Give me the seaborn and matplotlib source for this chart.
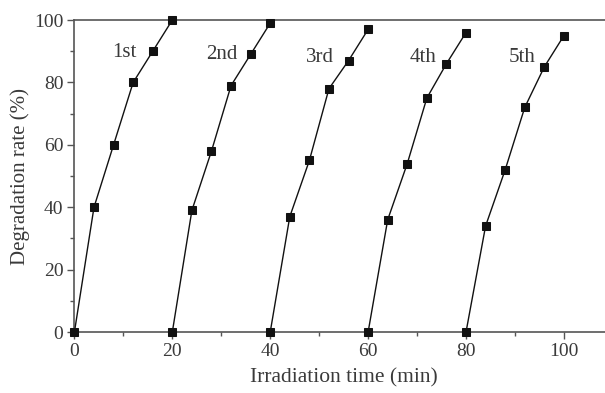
import matplotlib
matplotlib.use("Agg")
import matplotlib.pyplot as plt
import seaborn as sns
import pandas as pd
from matplotlib.ticker import MultipleLocator

# Photocatalytic degradation over five consecutive reuse cycles
cycles = ["1st", "2nd", "3rd", "4th", "5th"]
time_1st = [0, 4, 8, 12, 16, 20]
time_2nd = [20, 24, 28, 32, 36, 40]
time_3rd = [40, 44, 48, 52, 56, 60]
time_4th = [60, 64, 68, 72, 76, 80]
time_5th = [80, 84, 88, 92, 96, 100]
rate_1st = [0, 40, 60, 80, 90, 100]
rate_2nd = [0, 39, 58, 79, 89, 99]
rate_3rd = [0, 37, 55, 78, 87, 97]
rate_4th = [0, 36, 54, 75, 86, 96]
rate_5th = [0, 34, 52, 72, 85, 95]

times = [time_1st, time_2nd, time_3rd, time_4th, time_5th]
rates = [rate_1st, rate_2nd, rate_3rd, rate_4th, rate_5th]

df = pd.concat(
    [pd.DataFrame({"time": t, "rate": r, "cycle": c}) for t, r, c in zip(times, rates, cycles)],
    ignore_index=True,
)

sns.set_theme(style="ticks")
plt.rcParams["font.family"] = ["Liberation Serif", "DejaVu Serif"]

text_color = "#3a3a3a"
axis_color = "#555555"

fig = plt.figure(figsize=(6.05, 3.93), dpi=100)
ax = fig.add_axes([0.123, 0.155, 0.89, 0.794])

sns.lineplot(
    data=df, x="time", y="rate", hue="cycle", units="cycle", estimator=None,
    palette=["#111111"] * 5, marker="s", markersize=5.5, markeredgecolor="#111111",
    linewidth=1.0, legend=False, ax=ax, clip_on=False, zorder=3,
)

# Cycle labels next to each curve
label_pos = [(10.3, 89.5), (30.2, 89), (50.2, 88), (71.2, 88), (91.5, 88)]
for c, (lx, ly) in zip(cycles, label_pos):
    ax.text(lx, ly, c, ha="center", va="center", fontsize=15, color=text_color)

ax.set_xlim(0, 110)
ax.set_ylim(0, 100)
ax.xaxis.set_major_locator(MultipleLocator(20))
ax.xaxis.set_minor_locator(MultipleLocator(10))
ax.yaxis.set_major_locator(MultipleLocator(20))
ax.yaxis.set_minor_locator(MultipleLocator(10))

for side in ["left", "bottom", "top"]:
    ax.spines[side].set_color(axis_color)
    ax.spines[side].set_linewidth(1.2)
ax.spines["right"].set_visible(False)

ax.tick_params(which="major", direction="out", length=5, width=1, color=axis_color,
               labelsize=14, labelcolor=text_color, pad=3)
ax.tick_params(which="minor", direction="out", length=3, width=1, color=axis_color)
ax.tick_params(top=False, which="both")

ax.set_xlabel("Irradiation time (min)", fontsize=15.5, color=text_color, labelpad=6)
ax.set_ylabel("Degradation rate (%)", fontsize=15, color=text_color, labelpad=3)

fig.savefig("out.png", dpi=100)
